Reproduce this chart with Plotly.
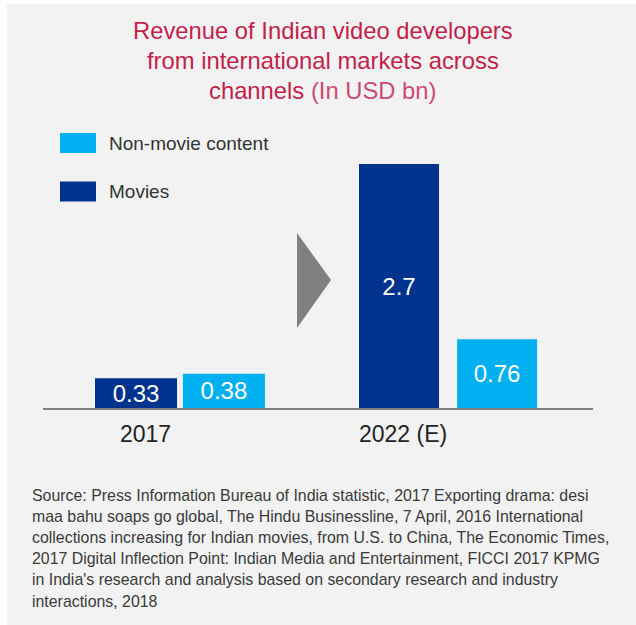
import plotly.graph_objects as go

# ---------------- data ----------------
categories = ["2017", "2022 (E)"]
series_names = ["Movies", "Non-movie content"]
movies = [0.33, 2.7]
non_movie = [0.38, 0.76]
legend_order = ["Non-movie content", "Movies"]
title_lines = ["Revenue of Indian video developers",
               "from international markets across",
               "channels"]
title_unit = "(In USD bn)"
source_lines = [
    "Source: Press Information Bureau of India statistic, 2017 Exporting drama: desi",
    "maa bahu soaps go global, The Hindu Businessline, 7 April, 2016 International",
    "collections increasing for Indian movies, from U.S. to China, The Economic Times,",
    "2017 Digital Inflection Point: Indian Media and Entertainment, FICCI 2017 KPMG",
    "in India's research and analysis based on secondary research and industry",
    "interactions, 2018",
]

# ---------------- style ----------------
W, H = 636, 625
DARK = "#00338D"
LIGHT = "#00B0F0"
TITLE_C = "#C41E4C"
UNIT_C = "#CC4A72"
FONT = "Arial, Liberation Sans, sans-serif"
colors = {"Movies": DARK, "Non-movie content": LIGHT}


def px(x):
    return x / W


def py(y):
    return 1 - y / H


fig = go.Figure()
values = {"Movies": movies, "Non-movie content": non_movie}
offsets = {"Movies": [-0.317, -0.332], "Non-movie content": [0.011, 0.034]}
widths = [0.306, 0.2985]
for name in series_names:
    vals = values[name]
    fig.add_trace(go.Bar(
        x=categories, y=vals, name=name,
        marker=dict(color=colors[name], line=dict(width=0)),
        offset=offsets[name], width=widths,
        text=[f"{v:g}" for v in vals],
        textposition="inside", insidetextanchor="middle", textangle=0,
        textfont=dict(family=FONT, size=24, color="white"),
        showlegend=False, hoverinfo="skip",
    ))

shapes = [
    # panel background
    dict(type="rect", xref="paper", yref="paper", x0=px(7), x1=px(640), y0=py(630), y1=py(4),
         fillcolor="#F2F2F2", line=dict(width=0), layer="below"),
    # arrow
    dict(type="path", xref="paper", yref="paper",
         path=f"M {px(297)} {py(233)} L {px(331)} {py(280)} L {px(297)} {py(328)} Z",
         fillcolor="#808080", line=dict(width=0)),
]

annotations = []
# title
title_y = [31, 60.5, 90]
for i, line in enumerate(title_lines):
    txt = line if i < len(title_lines) - 1 else f"{line} <span style='color:{UNIT_C}'>{title_unit}</span>"
    annotations.append(dict(text=txt, x=px(323), y=py(title_y[i]), xref="paper", yref="paper",
                            xanchor="center", yanchor="middle", showarrow=False,
                            font=dict(family=FONT, size=23.8, color=TITLE_C)))
# legend
leg_y = [143, 191.5]
for i, name in enumerate(legend_order):
    shapes.append(dict(type="rect", xref="paper", yref="paper",
                       x0=px(60), x1=px(96), y0=py(leg_y[i] + 10), y1=py(leg_y[i] - 10),
                       fillcolor=colors[name], line=dict(width=0)))
    annotations.append(dict(text=name, x=px(107), y=py(leg_y[i]), xref="paper", yref="paper",
                            xanchor="left", yanchor="middle", showarrow=False,
                            font=dict(family=FONT, size=19, color="#333333")))
# category labels
cat_shift = [-34, -45]
for i, c in enumerate(categories):
    annotations.append(dict(text=c, x=i, xref="x", y=py(434), yref="paper",
                            xanchor="center", yanchor="middle", xshift=cat_shift[i], showarrow=False,
                            font=dict(family=FONT, size=23, color="#222222")))
# source
for i, line in enumerate(source_lines):
    annotations.append(dict(text=line, x=px(30), y=py(495 + 21.2 * i), xref="paper", yref="paper",
                            xanchor="left", yanchor="middle", showarrow=False,
                            font=dict(family=FONT, size=15.9, color="#3A3A3A")))

fig.update_layout(
    width=W, height=H,
    margin=dict(l=0, r=0, t=0, b=0),
    paper_bgcolor="white", plot_bgcolor="rgba(0,0,0,0)",
    barmode="overlay",
    uniformtext=dict(minsize=24, mode="show"),
    xaxis=dict(domain=[px(43), px(593)], type="category", range=[-0.511, 1.541],
               showticklabels=False, ticks="", showgrid=False, zeroline=False,
               showline=True, linecolor="#808080", linewidth=2, fixedrange=True),
    yaxis=dict(domain=[py(408), py(164)], range=[0, 2.7], visible=False,
               showgrid=False, zeroline=False, fixedrange=True),
    shapes=shapes,
    annotations=annotations,
    showlegend=False,
)

fig.write_html("out.html", config={"displayModeBar": False},
               post_script="document.body.style.margin='0';")
